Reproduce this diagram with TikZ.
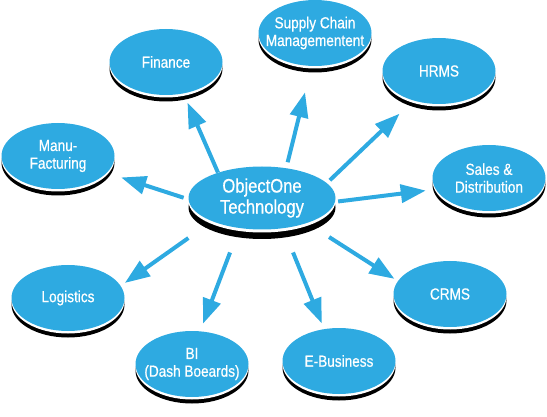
\documentclass[tikz,border=0pt]{standalone}
\usepackage{fontspec}
\setmainfont{Liberation Sans}[FakeStretch=0.85,FakeBold=0.6]
\usetikzlibrary{shapes.geometric,shadows,arrows.meta}
\definecolor{discblue}{RGB}{46,170,225}

\begin{document}
\begin{tikzpicture}
  [x=1pt,y=-1pt,
   shadowed/.style 2 args={general shadow={fill=black,shadow yshift=-#1},
     general shadow={fill=white,shadow yshift=-#2}},
   bubble/.style={ellipse,fill=discblue,inner sep=0pt,
     minimum width=113pt,minimum height=66pt,shadowed={6.5pt}{2.5pt}},
   hub/.style={ellipse,fill=discblue,inner sep=0pt,
     minimum width=147pt,minimum height=63pt,shadowed={9.5pt}{3pt}},
   word/.style={text=white,align=center,font=\fontsize{16}{17.7}\selectfont},
   bigword/.style={text=white,align=center,font=\fontsize{19.5}{21}\selectfont},
   arr/.style={discblue,line width=4pt,-{Triangle[length=25pt,width=18pt]}}]
  \useasboundingbox (0,0) rectangle (547,417);

  \node[hub,label={[bigword]center:ObjectOne\\Technology}] (obj) at (262,198) {};
  \node[bubble,label={[word]center:Finance}] (fin) at (166,62) {};
  \node[bubble,label={[word]center:Supply Chain\\Managementent}] (scm) at (315,33) {};
  \node[bubble,label={[word]center:HRMS}] (hrms) at (439,71) {};
  \node[bubble,label={[word]center:Manu-\\Facturing}] (manu) at (58,156) {};
  \node[bubble,label={[word]center:Sales \&\\Distribution}] (sales) at (489,178) {};
  \node[bubble,label={[word]center:Logistics}] (logi) at (68,298) {};
  \node[bubble,label={[word]center:CRMS}] (crms) at (450,294) {};
  \node[bubble,label={[word]center:BI\\(Dash Boeards)}] (bi) at (192,364) {};
  \node[bubble,label={[word]center:E-Business}] (ebiz) at (339,361) {};

  \foreach \to/\a/\b/\s/\e in {fin/150/299/0pt/10pt, manu/181/341/5pt/15pt,
    scm/51/264/6pt/27pt, hrms/13/229/4pt/19pt, sales/357/192/3pt/10pt,
    logi/205/13/29pt/5pt, bi/233/76/26pt/8pt, ebiz/305/115/26pt/6pt,
    crms/331/166/26pt/4pt}
    \draw[arr,shorten <=\s,shorten >=\e] (obj.\a) -- (\to.\b);
\end{tikzpicture}
\end{document}
